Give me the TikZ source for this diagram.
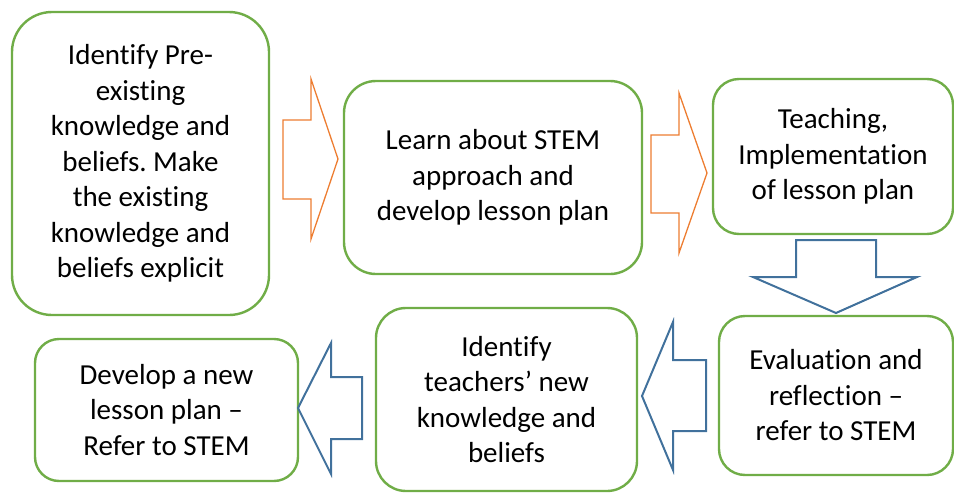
\documentclass[tikz,border=0pt]{standalone}
\usepackage{fontspec}
\setmainfont{Carlito}[Ligatures={NoCommon}]
\usepackage{xcolor}
\usetikzlibrary{positioning,calc}
\definecolor{stagegreen}{HTML}{70AD47}
\definecolor{flowor}{HTML}{ED7D31}
\definecolor{flowblue}{HTML}{41719C}
\frenchspacing

\begin{document}
\begin{tikzpicture}[x=1pt,y=-1pt,
    stage/.style={draw=stagegreen, line width=2.4pt, fill=white, align=center,
        inner sep=0pt, outer sep=0pt, font=\fontsize{29}{35.5}\selectfont},
    orflow/.style={draw=flowor, line width=1.3pt, line join=miter},
    blueflow/.style={draw=flowblue, line width=2pt, line join=miter}]
    \useasboundingbox (0,0) rectangle (954,493);

    % Top row of stages
    \node[stage, minimum width=257pt, minimum height=303pt, rounded corners=40pt] (pre) at (140.5,163.5)
        {Identify Pre-\\existing\\knowledge and\\beliefs. Make\\the existing\\knowledge and\\beliefs explicit};
    \node[stage, minimum width=298pt, minimum height=193pt, rounded corners=32pt] (learn) at (493,177.5)
        {Learn about STEM\\approach and\\develop lesson plan};
    \node[stage, minimum width=240pt, minimum height=155pt, rounded corners=26pt] (teach) at (833,156.5)
        {Teaching,\\Implementation\\of lesson plan};

    % Bottom row of stages
    \node[stage, minimum width=234pt, minimum height=159pt, rounded corners=26pt] (eval) at (836,395.5)
        {Evaluation and\\reflection --\\refer to STEM};
    \node[stage, minimum width=261pt, minimum height=183pt, rounded corners=30pt] (newkb) at (506.5,399.5)
        {Identify\\teachers’ new\\knowledge and\\beliefs};
    \node[stage, minimum width=263pt, minimum height=142pt, rounded corners=24pt] (newplan) at (166.5,410)
        {Develop a new\\lesson plan --\\Refer to STEM};

    % Block arrows (orange, pointing right)
    \draw[orflow] (283,120) -- (311,120) -- (311,79) -- (338,159) -- (311,239) -- (311,199) -- (283,199) -- cycle;
    \draw[orflow] (651,135) -- (679,135) -- (679,93) -- (707,173) -- (679,253) -- (679,213) -- (651,213) -- cycle;

    % Block arrows (blue)
    \draw[blueflow] (796,240) -- (876,240) -- (876,277) -- (917,277) -- (836,313) -- (753,277) -- (796,277) -- cycle;
    \draw[blueflow] (706,360) -- (673,360) -- (673,322) -- (642,396) -- (673,470) -- (673,431) -- (706,431) -- cycle;
    \draw[blueflow] (362,377) -- (331,377) -- (331,343) -- (298,408) -- (331,474) -- (331,439) -- (362,439) -- cycle;
\end{tikzpicture}
\end{document}
